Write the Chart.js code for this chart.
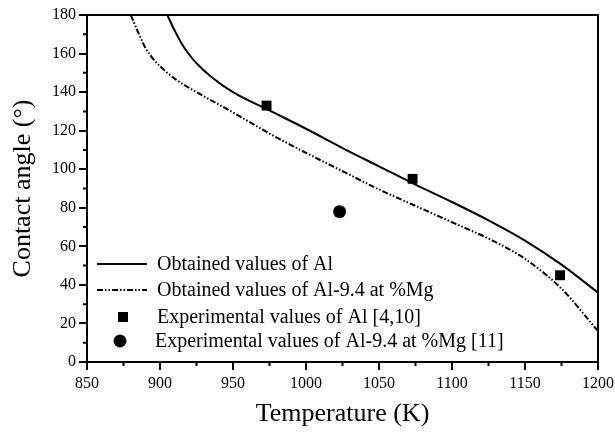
<!DOCTYPE html>
<html>
<head>
<meta charset="utf-8">
<script src="https://cdn.jsdelivr.net/npm/chart.js@4"></script>
<style>
  html, body { margin: 0; padding: 0; background: #fff; }
  #wrap { width: 615px; height: 434px; position: relative; }
</style>
</head>
<body>
<div id="wrap"><canvas id="chart"></canvas></div>
<script>
// Obtained values of Al (solid curve)
const alTemps = [905, 910, 915, 920, 925, 935, 950, 975, 1000, 1025, 1050, 1075, 1100, 1125, 1150, 1175, 1200];
const alAngles = [180, 172, 165, 159.5, 155, 148, 140, 130.5, 121, 111, 101.5, 92, 83, 73.5, 63, 50.5, 36];

// Obtained values of Al-9.4 at %Mg (dash-dot-dot curve)
const mgTemps = [880, 885, 890, 895, 900, 910, 925, 950, 975, 1000, 1025, 1050, 1075, 1100, 1125, 1150, 1175, 1200];
const mgAngles = [180, 171, 163, 157.5, 153.5, 147, 140, 129.5, 118.5, 108.5, 99, 89.5, 81, 72.5, 64, 53.5, 38, 16];

// Experimental points
const expAlTemps = [973, 1073, 1174];
const expAlAngles = [133, 95, 45];
const expMgTemps = [1023];
const expMgAngles = [78];

const legendLabels = [
    'Obtained values of Al',
    'Obtained values of Al-9.4 at %Mg',
    'Experimental values of Al [4,10]',
    'Experimental values of Al-9.4 at %Mg [11]'
];

const SERIF = '"Liberation Serif", "Times New Roman", serif';
const DASH = [6, 2, 1.5, 2, 1.5, 2];

const pts = (xs, ys) => xs.map((x, i) => ({ x: x, y: ys[i] }));
const isMajor = (axis, v) => v % (axis === 'x' ? 50 : 20) === 0;

// legend drawn inside the plot, lower left
const insideLegend = {
    id: 'insideLegend',
    afterDraw: function (chart) {
        const ctx = chart.ctx;
        const x0 = 97, x1 = 147, tx = 157;
        const rows = [264, 290, 317, 341];
        ctx.save();
        ctx.strokeStyle = '#000';
        ctx.fillStyle = '#000';
        ctx.lineWidth = 2;
        ctx.beginPath(); ctx.moveTo(x0, rows[0]); ctx.lineTo(x1, rows[0]); ctx.stroke();
        ctx.setLineDash(DASH);
        ctx.beginPath(); ctx.moveTo(x0, rows[1]); ctx.lineTo(x1, rows[1]); ctx.stroke();
        ctx.setLineDash([]);
        ctx.fillRect(123 - 5, rows[2] - 5, 10, 10);
        ctx.beginPath(); ctx.arc(120, rows[3], 6.5, 0, Math.PI * 2); ctx.fill();
        ctx.font = '20px ' + SERIF;
        ctx.textBaseline = 'middle';
        legendLabels.forEach((t, i) => ctx.fillText(t, i === 3 ? tx - 2 : tx, rows[i] + 1));
        ctx.restore();
    }
};

// box round the plot plus short minor ticks
const frame = {
    id: 'frame',
    afterDraw: function (chart) {
        const a = chart.chartArea, ctx = chart.ctx;
        ctx.save();
        ctx.strokeStyle = '#000';
        ctx.lineWidth = 2;
        ctx.strokeRect(a.left, a.top, a.right - a.left, a.bottom - a.top);
        ctx.beginPath();
        chart.scales.x.ticks.forEach(t => {
            if (isMajor('x', t.value)) return;
            const px = chart.scales.x.getPixelForValue(t.value);
            ctx.moveTo(px, a.bottom); ctx.lineTo(px, a.bottom + 4);
        });
        chart.scales.y.ticks.forEach(t => {
            if (isMajor('y', t.value)) return;
            const py = chart.scales.y.getPixelForValue(t.value);
            ctx.moveTo(a.left, py); ctx.lineTo(a.left - 4, py);
        });
        ctx.stroke();
        ctx.restore();
    }
};

const majorOnly = axis => ctx => (ctx.tick && isMajor(axis, ctx.tick.value) ? '#000' : 'rgba(0,0,0,0)');

new Chart(document.getElementById('chart'), {
    type: 'scatter',
    data: {
        datasets: [
            {
                label: legendLabels[0], data: pts(alTemps, alAngles), showLine: true,
                borderColor: '#000', borderWidth: 2, pointRadius: 0, cubicInterpolationMode: 'monotone'
            },
            {
                label: legendLabels[1], data: pts(mgTemps, mgAngles), showLine: true,
                borderColor: '#000', borderWidth: 2, borderDash: DASH, pointRadius: 0, cubicInterpolationMode: 'monotone'
            },
            {
                label: legendLabels[2], data: pts(expAlTemps, expAlAngles),
                pointStyle: 'rect', pointRadius: 7, backgroundColor: '#000', borderColor: '#000', borderWidth: 0
            },
            {
                label: legendLabels[3], data: pts(expMgTemps, expMgAngles),
                pointStyle: 'circle', pointRadius: 6.5, backgroundColor: '#000', borderColor: '#000', borderWidth: 0
            }
        ]
    },
    options: {
        responsive: true,
        maintainAspectRatio: false,
        animation: false,
        layout: { padding: { top: 15, right: 17, left: 0, bottom: 0 } },
        plugins: { legend: { display: false }, tooltip: { enabled: false } },
        scales: {
            x: {
                type: 'linear', min: 850, max: 1200,
                afterFit: s => { s.height = 72; s.paddingLeft = 0; s.paddingRight = 0; },
                border: { color: '#000', width: 2 },
                grid: { drawOnChartArea: false, color: majorOnly('x'), lineWidth: 2, tickLength: 8 },
                ticks: {
                    stepSize: 25, color: '#000', padding: 4, maxRotation: 0, autoSkip: false,
                    font: { family: SERIF, size: 16 },
                    callback: v => (isMajor('x', v) ? v : '')
                },
                title: {
                    display: true, text: 'Temperature (K)', color: '#000',
                    font: { family: SERIF, size: 26 }, padding: { top: 4 }
                }
            },
            y: {
                min: 0, max: 180,
                afterFit: s => { s.width = 87; s.paddingTop = 0; s.paddingBottom = 0; },
                border: { color: '#000', width: 2 },
                grid: { drawOnChartArea: false, color: majorOnly('y'), lineWidth: 2, tickLength: 8 },
                ticks: {
                    stepSize: 10, color: '#000', padding: 3, autoSkip: false,
                    font: { family: SERIF, size: 16 },
                    callback: v => (isMajor('y', v) ? v : '')
                },
                title: {
                    display: true, text: 'Contact angle (°)', color: '#000',
                    font: { family: SERIF, size: 26 }, padding: { top: 8, bottom: 0 }
                }
            }
        }
    },
    plugins: [insideLegend, frame]
});
</script>
</body>
</html>
